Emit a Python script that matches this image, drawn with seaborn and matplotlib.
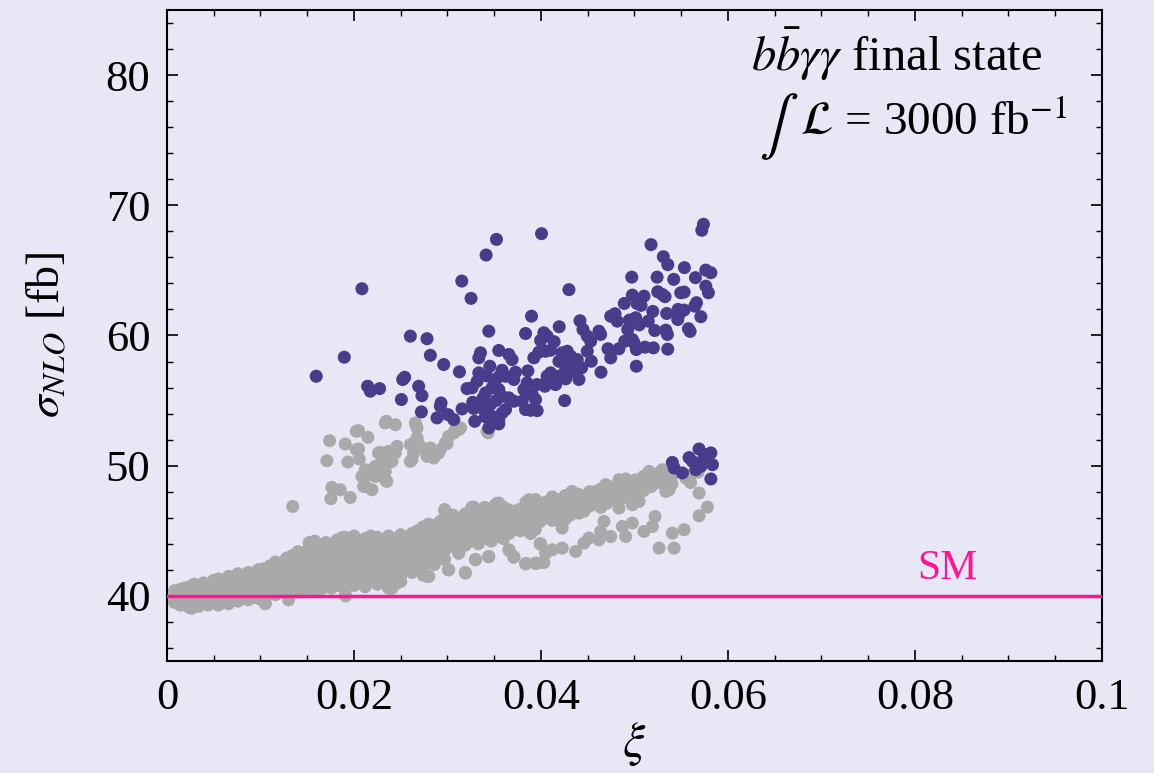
import numpy as np
import pandas as pd
import matplotlib
matplotlib.use("Agg")
import matplotlib.pyplot as plt
import seaborn as sns
from matplotlib.ticker import MultipleLocator, FixedLocator, FixedFormatter

# --- data (xi, sigma_NLO in fb) ---
# purple: points excluded / distinguishable
purple_main = [
    (0.05738, 68.54), (0.05720, 68.08), (0.04006, 67.82), (0.03524, 67.38), (0.03413, 66.18),
    (0.05177, 66.98), (0.05309, 66.05), (0.05356, 65.44), (0.05534, 65.21), (0.05763, 65.02),
    (0.05817, 64.82), (0.04971, 64.48), (0.05242, 64.48), (0.05420, 64.31), (0.05652, 64.44),
    (0.03153, 64.18), (0.04299, 63.52), (0.05763, 63.79), (0.05791, 63.28), (0.03252, 62.85),
    (0.04977, 63.10), (0.05102, 63.02), (0.05249, 63.36), (0.05298, 63.15), (0.05327, 62.98),
    (0.05495, 63.28), (0.05531, 63.33), (0.04891, 62.46), (0.05027, 62.46), (0.05070, 62.31),
    (0.05645, 62.25), (0.05663, 62.52), (0.05196, 61.85), (0.05466, 62.00), (0.05531, 61.95),
    (0.05477, 61.62), (0.05345, 61.69), (0.05710, 61.44), (0.03899, 61.48), (0.04746, 61.48),
    (0.04792, 61.67), (0.04816, 61.10), (0.04945, 61.18), (0.05013, 61.36), (0.05052, 60.82),
    (0.04928, 60.46), (0.05148, 61.10), (0.05463, 61.23), (0.05217, 60.38), (0.05335, 60.41),
    (0.05352, 60.08), (0.05577, 60.52), (0.05595, 60.31), (0.04417, 61.13), (0.04449, 60.46),
    (0.04495, 59.95), (0.04531, 59.56), (0.04620, 60.33), (0.04638, 60.08), (0.04195, 60.67),
    (0.03442, 60.33), (0.03835, 60.15), (0.04031, 60.21), (0.04066, 59.95), (0.04141, 59.52),
    (0.03996, 59.62), (0.04896, 59.56), (0.04977, 59.69), (0.04995, 59.44), (0.02603, 59.95),
    (0.02781, 59.75), (0.04717, 58.98), (0.04834, 58.98), (0.04746, 58.28), (0.05020, 58.92),
    (0.05113, 59.10), (0.05202, 59.05), (0.05356, 58.95), (0.05020, 57.64), (0.02817, 58.48),
    (0.03353, 58.67), (0.03335, 58.28), (0.03549, 58.85), (0.03656, 58.54), (0.03691, 58.15),
    (0.03924, 58.28), (0.03977, 58.72), (0.04049, 58.79), (0.04103, 58.87), (0.04495, 58.79),
    (0.04538, 58.02), (0.04227, 58.67), (0.04281, 58.79), (0.04317, 58.41), (0.04192, 58.02),
    (0.04253, 57.95), (0.04334, 57.90), (0.04388, 58.15), (0.04435, 57.52), (0.04264, 57.38),
    (0.04334, 57.25), (0.04406, 56.62), (0.04184, 56.87), (0.04264, 56.67), (0.04156, 56.23),
    (0.04066, 56.87), (0.04103, 57.13), (0.04042, 56.10), (0.04642, 57.18), (0.02960, 57.77),
    (0.03128, 57.21), (0.03453, 57.64), (0.03335, 57.13), (0.03317, 56.48), (0.03263, 55.98),
    (0.03584, 57.33), (0.03549, 56.82), (0.03621, 56.87), (0.03728, 57.18), (0.03710, 56.62),
    (0.03860, 57.28), (0.03852, 56.36), (0.03817, 55.85), (0.03906, 55.46), (0.03942, 55.08),
    (0.03959, 56.23), (0.04049, 56.36), (0.03209, 55.92), (0.03407, 55.59), (0.03477, 55.98),
    (0.03549, 55.85), (0.03584, 55.33), (0.03656, 55.21), (0.03710, 54.95), (0.03621, 54.31),
    (0.04253, 55.00), (0.03799, 54.95), (0.03835, 54.31), (0.03889, 54.25), (0.03959, 54.23),
    (0.02692, 56.10), (0.02727, 55.38), (0.02521, 56.62), (0.02542, 56.79), (0.02507, 55.08),
    (0.02931, 54.82), (0.02924, 54.56), (0.02721, 54.13), (0.03156, 54.36), (0.03270, 54.87),
    (0.03335, 54.56), (0.03388, 54.31), (0.03442, 53.92), (0.03407, 53.75), (0.03477, 53.79),
    (0.03549, 53.54), (0.03584, 54.05), (0.02888, 53.67), (0.03006, 53.92), (0.03067, 53.54),
    (0.03292, 53.41), (0.03442, 52.90), (0.03549, 53.21), (0.02085, 63.59), (0.01896, 58.33),
    (0.01596, 56.87), (0.02146, 56.10), (0.02175, 55.72), (0.02274, 55.92), (0.03500, 56.40),
    (0.03420, 56.90), (0.03380, 55.20), (0.03460, 54.70), (0.03520, 55.00), (0.03280, 54.40),
]
purple_low = [
    (0.05405, 50.25), (0.05424, 49.82), (0.05513, 49.44), (0.05691, 51.28), (0.05620, 50.33),
    (0.05656, 49.69), (0.05763, 50.85), (0.05817, 50.98), (0.05834, 50.08), (0.05817, 48.98),
    (0.05710, 49.95), (0.05745, 50.59), (0.05584, 50.62),
]

# gray: upper detached cloud
gray_upper = [
    (0.01739, 51.92), (0.01907, 51.67), (0.01710, 50.38), (0.01935, 50.28), (0.02025, 52.64),
    (0.02025, 51.23), (0.01763, 48.33), (0.01853, 48.15), (0.01753, 47.46), (0.01960, 47.56),
    (0.01345, 46.87), (0.02049, 52.69), (0.02149, 52.18), (0.02049, 51.28), (0.02057, 50.52),
    (0.02282, 51.02), (0.02371, 51.10), (0.02460, 51.49), (0.02442, 50.98), (0.02299, 50.33),
    (0.02389, 50.33), (0.02335, 53.28), (0.02442, 53.15), (0.02663, 53.15), (0.02674, 52.13),
    (0.02620, 51.62), (0.02638, 50.98), (0.02603, 50.33), (0.02710, 51.49), (0.02781, 50.72),
    (0.02853, 50.59), (0.02906, 50.98), (0.02817, 51.36), (0.02995, 51.69), (0.03067, 52.52),
    (0.03121, 52.77), (0.02121, 49.69), (0.02175, 49.31), (0.02085, 49.18), (0.02228, 49.18),
    (0.02335, 49.56), (0.02352, 48.79), (0.02121, 48.41), (0.02192, 48.15), (0.02346, 53.41),
    (0.02657, 53.28), (0.02674, 52.90), (0.02603, 51.62), (0.02674, 52.00), (0.02657, 51.23),
    (0.02620, 50.46), (0.02764, 51.23), (0.02871, 50.98), (0.02924, 51.23), (0.02978, 51.75),
    (0.03013, 52.25), (0.03424, 52.64), (0.02228, 49.95), (0.02335, 48.92), (0.02103, 48.41),
    (0.02263, 50.98), (0.02406, 50.33), (0.03084, 52.77), (0.03139, 52.90), (0.03434, 52.52),
]

# gray: main band, as columns (xi, sigma values)
gray_band_cols = [
    (0.0008, [39.5, 40.0, 40.4]), (0.0014, [39.3, 39.9, 40.5]), (0.0019, [39.5, 40.2, 40.6]),
    (0.0024, [39.1, 39.8, 40.3, 40.7]), (0.0029, [39.4, 40.0, 40.5, 40.9]),
    (0.0034, [39.2, 39.7, 40.2, 40.8]), (0.0039, [39.5, 40.1, 40.6, 41.0]),
    (0.0044, [39.3, 39.9, 40.4, 40.9]), (0.0050, [39.6, 40.2, 40.7, 41.2]),
    (0.0055, [39.3, 39.8, 40.4, 41.0, 41.3]), (0.0060, [39.6, 40.1, 40.6, 41.2]),
    (0.0066, [39.4, 40.0, 40.5, 41.0, 41.5]), (0.0071, [39.7, 40.3, 40.8, 41.4]),
    (0.0076, [39.6, 40.1, 40.7, 41.2, 41.7]), (0.0082, [39.8, 40.4, 40.9, 41.5]),
    (0.0087, [39.7, 40.2, 40.8, 41.3, 41.8]), (0.0093, [39.9, 40.5, 41.0, 41.6]),
    (0.0098, [39.8, 40.3, 40.9, 41.4, 42.0]), (0.0105, [39.4]),
    (0.0104, [40.0, 40.6, 41.1, 41.7, 42.1]), (0.0110, [40.2, 40.8, 41.3, 41.9, 42.3]),
    (0.0116, [40.1, 40.5, 41.0, 41.6, 42.2, 42.6]), (0.0122, [40.3, 40.9, 41.4, 42.0, 42.5]),
    (0.0128, [40.2, 40.7, 41.2, 41.8, 42.3, 42.9]), (0.0130, [39.7]),
    (0.0134, [40.4, 41.0, 41.5, 42.1, 42.6, 43.1]),
    (0.0140, [40.3, 40.8, 41.3, 41.9, 42.4, 43.0, 43.4]),
    (0.0146, [40.5, 41.1, 41.6, 42.2, 42.8, 43.3]),
    (0.0152, [40.4, 40.9, 41.4, 42.0, 42.5, 43.1, 43.7, 44.1]),
    (0.0158, [40.6, 41.2, 41.7, 42.3, 42.9, 43.5, 44.2]),
    (0.0164, [40.5, 41.0, 41.5, 42.1, 42.7, 43.2, 43.8]),
    (0.0170, [40.7, 41.3, 41.9, 42.5, 43.0, 43.6, 44.1]),
    (0.0176, [40.6, 41.1, 41.7, 42.2, 42.8, 43.4, 43.9]),
    (0.0182, [40.8, 41.4, 42.0, 42.6, 43.1, 43.7, 44.3]),
    (0.0188, [40.7, 41.2, 41.8, 42.4, 42.9, 43.5, 44.0, 44.5]), (0.0191, [40.0]),
    (0.0194, [40.9, 41.5, 42.1, 42.7, 43.3, 43.9]),
    (0.0200, [40.8, 41.3, 41.9, 42.5, 43.0, 43.6, 44.2, 44.6]),
    (0.0206, [41.0, 41.6, 42.2, 42.8, 43.4, 44.0]),
    (0.0212, [40.7, 41.2, 41.8, 42.4, 43.1, 43.7, 44.4]),
    (0.0218, [41.1, 41.7, 42.3, 42.9, 43.5, 44.1, 44.6]),
    (0.0225, [40.9, 41.5, 42.0, 42.6, 43.2, 43.8, 44.5]),
    (0.0231, [41.2, 41.8, 42.4, 43.0, 43.6, 44.2]),
    (0.0237, [40.6, 41.0, 41.7, 42.2, 42.9, 43.4, 44.0, 44.6]),
    (0.0244, [41.3, 41.9, 42.5, 43.1, 43.7, 44.3]),
    (0.0250, [41.1, 41.6, 42.2, 42.8, 43.5, 44.1, 44.7]),
    (0.0256, [42.0, 42.6, 43.2, 43.8, 44.4]),
    (0.0262, [41.8, 42.4, 43.0, 43.6, 44.2, 44.8]),
    (0.0268, [42.1, 42.7, 43.3, 43.9, 44.5, 45.0]),
    (0.0274, [41.6, 42.3, 42.9, 43.5, 44.1, 44.7, 45.3]),
    (0.0280, [41.5, 42.6, 43.2, 43.8, 44.4, 45.0, 45.5]),
    (0.0286, [42.4, 43.0, 43.6, 44.2, 44.8, 45.4]),
    (0.0292, [43.3, 43.9, 44.5, 45.1, 45.7]),
    (0.0297, [42.8, 43.5, 44.1, 44.7, 45.3, 46.0, 46.6]), (0.0301, [42.0]),
    (0.0306, [43.8, 44.4, 45.0, 45.6, 46.2]), (0.0312, [43.3, 44.1, 44.7, 45.3, 45.9]),
    (0.0319, [41.8, 43.9, 44.5, 45.1, 45.7, 46.3]), (0.0326, [44.2, 44.8, 45.4, 46.0, 46.8]),
    (0.0330, [42.8]), (0.0333, [44.0, 44.6, 45.2, 45.8, 46.4]),
    (0.0340, [44.4, 45.0, 45.6, 46.2, 46.8]), (0.0344, [43.0]),
    (0.0347, [44.2, 44.8, 45.4, 46.0, 46.6]), (0.0353, [44.6, 45.2, 45.8, 46.4, 47.1]),
    (0.0360, [44.4, 45.0, 45.6, 46.2, 46.8]), (0.0366, [43.5, 44.8, 45.4, 46.0, 46.6]),
    (0.0371, [43.0, 45.1, 45.7, 46.3]), (0.0378, [45.0, 45.6, 46.1, 46.6]),
    (0.0384, [42.5, 45.3, 45.9, 46.5, 47.2]), (0.0389, [44.8, 45.6, 46.2, 46.8]),
    (0.0394, [42.5, 45.1, 45.9, 46.5, 47.4]), (0.0399, [44.0, 45.7, 46.3, 46.9]),
    (0.0405, [46.0, 46.6, 47.2]), (0.0412, [45.8, 46.4, 47.0, 47.6]),
    (0.0420, [46.2, 46.8, 47.4]), (0.0426, [45.9, 46.6, 47.1, 47.7]),
    (0.0433, [46.4, 47.0, 47.5, 48.0]), (0.0440, [46.8, 47.3, 47.8]),
    (0.0446, [46.5, 47.1, 47.6]), (0.0452, [46.9, 47.5, 48.0]), (0.0458, [47.2, 47.8]),
    (0.0464, [46.8, 47.4, 48.2]), (0.0470, [47.1, 47.9, 48.4]), (0.0477, [47.4, 48.0]),
    (0.0483, [47.3, 47.8, 48.5]), (0.0490, [47.6, 48.2, 48.7]), (0.0496, [47.4, 48.0, 48.6]),
    (0.0503, [47.8, 48.3]), (0.0510, [48.1, 48.8, 49.2]), (0.0518, [48.4, 49.0]),
    (0.0525, [48.7, 49.4]), (0.0532, [48.9]), (0.0540, [48.6, 49.2]),
    (0.0560, [48.7, 49.3]), (0.0568, [49.5]),
]

# gray: scattered points along and below the band at larger xi
gray_branch = [
    (0.03835, 42.46), (0.03959, 42.51), (0.04031, 42.56), (0.03996, 44.00), (0.04049, 43.28),
    (0.04120, 43.54), (0.04227, 43.67), (0.04371, 43.41), (0.04460, 44.05), (0.04513, 44.44),
    (0.04620, 44.31), (0.04638, 44.95), (0.04674, 45.72), (0.04746, 44.56), (0.04870, 45.33),
    (0.04906, 44.56), (0.04977, 45.59), (0.05102, 44.95), (0.05191, 45.33), (0.05220, 46.10),
    (0.05263, 43.67), (0.05405, 44.82), (0.05424, 43.67), (0.05531, 45.08), (0.05691, 46.15),
    (0.05780, 46.82), (0.05691, 47.90), (0.05549, 49.05), (0.05370, 48.15), (0.05335, 48.02),
    (0.05156, 49.56), (0.05298, 49.69), (0.05156, 48.79), (0.05405, 49.31), (0.05013, 48.92),
    (0.04906, 48.98), (0.04834, 48.92), (0.05031, 48.02), (0.05049, 47.26), (0.04977, 47.00),
    (0.04834, 46.74), (0.04763, 47.64), (0.04692, 48.54), (0.04585, 48.02), (0.04513, 47.90),
    (0.04406, 47.26), (0.04334, 48.02), (0.04264, 47.64), (0.04192, 47.13), (0.04120, 47.00),
    (0.04227, 46.62), (0.04406, 46.36), (0.04317, 46.23), (0.03870, 47.26), (0.03835, 46.10),
    (0.03924, 45.85), (0.04192, 45.85), (0.04227, 45.21), (0.03906, 45.08), (0.03799, 45.59),
    (0.04478, 47.38), (0.04656, 47.64), (0.04727, 48.41), (0.04941, 48.41), (0.04941, 47.64),
    (0.04834, 48.02), (0.02970, 46.62), (0.03067, 45.85), (0.03281, 46.82), (0.03514, 47.00),
    (0.03549, 47.13), (0.03763, 46.62), (0.03870, 47.38), (0.02792, 45.46), (0.02692, 44.69),
    (0.02531, 42.00), (0.02746, 41.62), (0.02781, 41.49), (0.03013, 42.00), (0.03192, 41.75),
    (0.02942, 43.28), (0.03120, 43.28), (0.03299, 42.77), (0.03442, 43.03), (0.03656, 43.54),
    (0.03710, 42.97), (0.03942, 42.51), (0.03889, 44.82), (0.02371, 41.75), (0.02460, 40.98),
    (0.02406, 40.59), (0.01578, 44.18), (0.01603, 43.79), (0.01907, 44.50), (0.01763, 43.79),
    (0.01371, 43.03), (0.01157, 42.38), (0.00978, 42.00), (0.00746, 41.62), (0.00550, 41.23),
    (0.00264, 39.05), (0.00156, 39.31), (0.00550, 39.31), (0.01050, 39.44), (0.01907, 40.08),
]

sm_value = 40.0
x_ticks = [0, 0.02, 0.04, 0.06, 0.08, 0.1]
x_tick_labels = ["0", "0.02", "0.04", "0.06", "0.08", "0.1"]
y_ticks = [40, 50, 60, 70, 80]

# --- build table ---
rows = []
for x, y in gray_upper:
    rows.append((x, y, "gray"))
for x, ys in gray_band_cols:
    for y in ys:
        rows.append((x, y, "gray"))
for x, y in gray_branch:
    rows.append((x, y, "gray"))
for x, y in purple_main + purple_low:
    rows.append((x, y, "purple"))
df = pd.DataFrame(rows, columns=["xi", "sigma", "group"])

# --- style ---
sns.set_style("ticks")
bg = "#E7E7F6"
plt.rcParams.update({
    "font.family": ["Liberation Serif", "DejaVu Serif"],
    "mathtext.fontset": "stix",
    "axes.linewidth": 1.5,
    "text.color": "black",
    "axes.labelcolor": "black",
    "xtick.color": "black",
    "ytick.color": "black",
})

fig = plt.figure(figsize=(11.54, 7.73), dpi=100, facecolor=bg)
ax = fig.add_axes([0.1447, 0.1449, 0.9549 - 0.1447, 0.9871 - 0.1449])
ax.set_facecolor(bg)

sns.scatterplot(data=df, x="xi", y="sigma", hue="group",
                palette={"gray": "#A9A9A9", "purple": "#483D8B"},
                s=88, linewidth=0, alpha=1.0, legend=False, ax=ax, zorder=3)

ax.axhline(sm_value, color="#FF1493", lw=2.5, zorder=4)
ax.text(0.0835, 40.6, "SM", color="#FF1493", fontsize=30, ha="center", va="bottom")

ax.set_xlim(0, 0.1)
ax.set_ylim(35, 85)
ax.xaxis.set_major_locator(FixedLocator(x_ticks))
ax.xaxis.set_major_formatter(FixedFormatter(x_tick_labels))
ax.xaxis.set_minor_locator(MultipleLocator(0.005))
ax.set_yticks(y_ticks)
ax.yaxis.set_minor_locator(MultipleLocator(2))
ax.tick_params(which="both", direction="in", top=True, right=True, color="black")
ax.tick_params(which="major", length=8, width=1.2, labelsize=32, pad=12, labelcolor="black")
ax.tick_params(which="minor", length=4, width=1.0)
for sp in ax.spines.values():
    sp.set_color("black")

ax.set_xlabel(r"$\xi$", fontsize=36, labelpad=2)
ax.set_ylabel(r"$\sigma_{NLO}$ [fb]", fontsize=33, labelpad=26)

ax.text(0.0625, 81.6, r"$b\bar{b}\gamma\gamma$ final state", fontsize=35, ha="left", va="center")
ax.text(0.0633, 76.0, r"$\int$", fontsize=42, ha="left", va="center")
ax.text(0.0677, 76.3, r"$\mathcal{L}$ = 3000 fb$^{-1}$", fontsize=34, ha="left", va="center")

fig.savefig("out.png", dpi=100, facecolor=bg)
